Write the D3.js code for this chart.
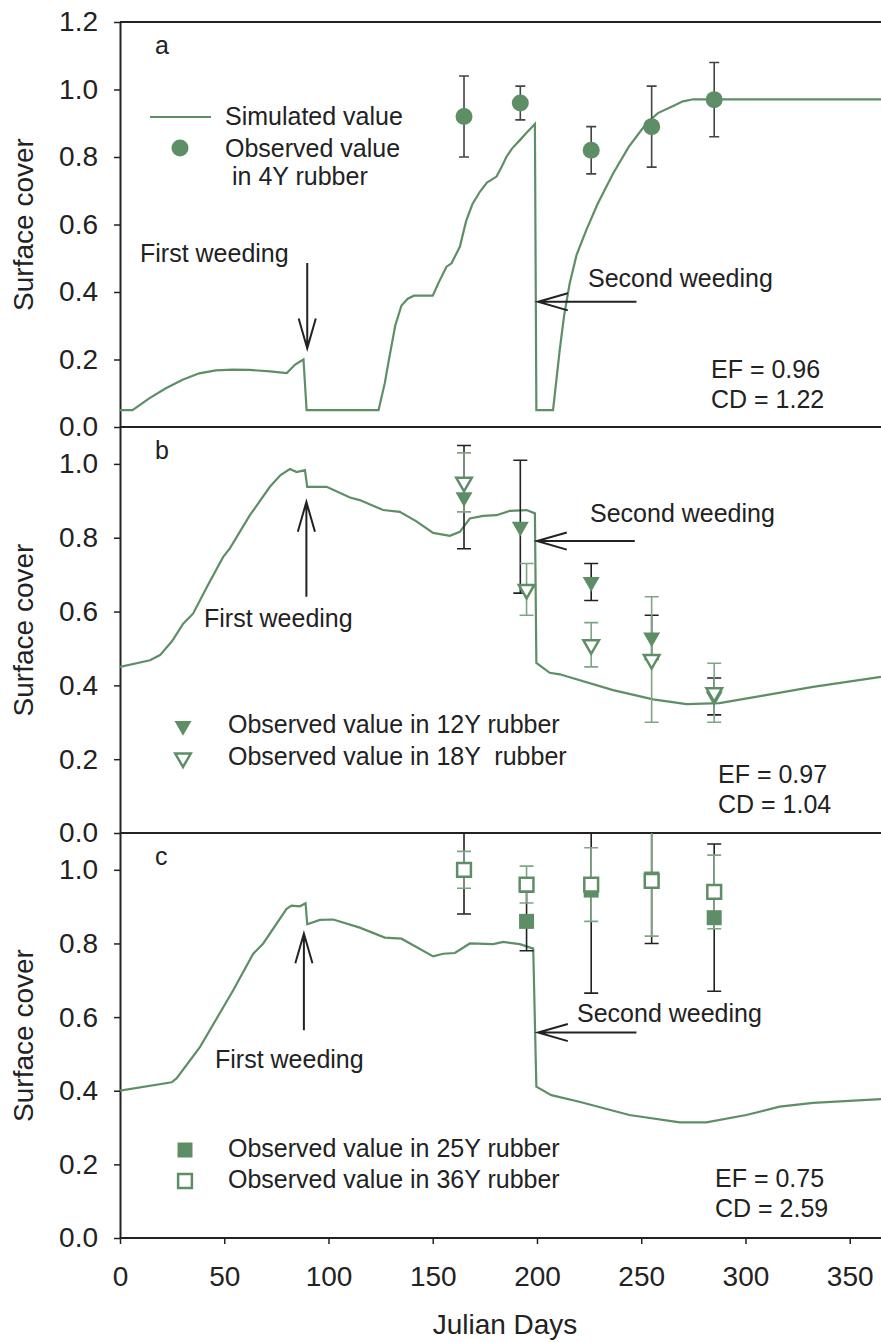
<!DOCTYPE html>
<html>
<head>
<meta charset="utf-8">
<script src="https://cdn.jsdelivr.net/npm/d3@7"></script>
<style>
  body { margin: 0; background: #fff; }
  text { font-family: "Liberation Sans", Arial, sans-serif; fill: #222; }
</style>
</head>
<body>
<svg id="chart"></svg>
<script>
/* simulated surface cover, [julian day, value] */
var simA = [[0,0.05],[6,0.05],[14,0.085],[22,0.115],[30,0.14],[38,0.159],[46,0.168],[54,0.17],[62,0.169],[72,0.165],[80,0.16],[84,0.185],[88,0.2],[89.5,0.05],
  [124,0.05],[127,0.13],[129,0.2],[132,0.3],[135,0.36],[138,0.38],[141,0.389],[150,0.389],[153,0.43],[156.6,0.475],[159,0.485],[163,0.534],[166,0.61],
  [169,0.66],[172.6,0.697],[176,0.724],[180.6,0.742],[183,0.77],[185.3,0.8],[188,0.825],[191.8,0.85],[195,0.872],[199,0.898],[199.7,0.05],[207.7,0.05],
  [209.3,0.139],[210.9,0.228],[213,0.33],[215.7,0.426],[219,0.51],[223.7,0.584],[229,0.66],[236.5,0.751],[244,0.83],[252.5,0.9],[258,0.93],[265.3,0.951],
  [270,0.965],[275,0.971],[365,0.971]];
var simB = [[0,0.45],[14.4,0.468],[19.2,0.482],[25,0.52],[30.3,0.567],[35.1,0.595],[42,0.67],[49.5,0.748],[52.7,0.771],[62.3,0.861],[71.9,0.938],[77,0.97],
  [81.5,0.986],[84.7,0.978],[88.7,0.983],[89.8,0.938],[99.1,0.938],[110.3,0.909],[115,0.902],[126.2,0.875],[134.2,0.87],[142,0.845],[150.2,0.813],
  [158.2,0.805],[163,0.816],[167.8,0.852],[174.2,0.859],[180.6,0.861],[187,0.873],[195,0.875],[199,0.866],[199.7,0.461],[206.1,0.434],[210.9,0.43],
  [236.5,0.387],[255.7,0.362],[271.7,0.349],[287.6,0.352],[308.4,0.372],[332.4,0.396],[365,0.423]];
var simC = [[0,0.4],[24.8,0.423],[27.2,0.434],[38.4,0.519],[54.3,0.673],[63.9,0.772],[68.7,0.8],[79.9,0.894],[82.3,0.903],[86.3,0.901],[89,0.909],
  [89.8,0.852],[95.9,0.864],[102.3,0.865],[115,0.843],[127,0.816],[135,0.813],[150.2,0.765],[155,0.772],[160.6,0.774],[167.8,0.8],[179,0.798],
  [183.8,0.804],[191.8,0.798],[198.2,0.786],[199.7,0.411],[206.9,0.388],[220.3,0.37],[244.3,0.334],[268.5,0.314],[281.2,0.314],[300.4,0.334],
  [316.4,0.357],[332.4,0.367],[365,0.377]];

/* observed values and error bars */
var days4Y = [165, 192, 226, 255, 285];
var obs4Y  = [0.92, 0.96, 0.82, 0.89, 0.97];
var err4Y  = [0.12, 0.05, 0.07, 0.12, 0.11];

var days12Y = [165, 192, 226, 255, 285];
var obs12Y  = [0.91, 0.83, 0.68, 0.53, 0.37];
var err12Y  = [0.14, 0.18, 0.05, 0.06, 0.05];
var days18Y = [165, 195, 226, 255, 285];
var obs18Y  = [0.95, 0.66, 0.51, 0.47, 0.38];
var err18Y  = [0.08, 0.07, 0.06, 0.17, 0.08];

var days25Y = [165, 195, 226, 255, 285];
var obs25Y  = [1.0, 0.86, 0.945, 0.975, 0.87];
var err25Y  = [0.12, 0.08, 0.28, 0.175, 0.2];
var days36Y = [165, 195, 226, 255, 285];
var obs36Y  = [1.0, 0.96, 0.96, 0.97, 0.94];
var err36Y  = [0.05, 0.05, 0.1, 0.15, 0.1];

var xTicks = [0, 50, 100, 150, 200, 250, 300, 350];
var stats = { a: ['EF = 0.96', 'CD = 1.22'], b: ['EF = 0.97', 'CD = 1.04'], c: ['EF = 0.75', 'CD = 2.59'] };

function zip (days, vals, errs) {
  return days.map(function (d, i) { return { day: d, v: vals[i], e: errs[i] }; });
}

var width = 881, height = 1342;
var green = '#5e8e66';
var ink = '#222';

var svg = d3.select('#chart').attr('width', width).attr('height', height);
var x = d3.scaleLinear().domain([0, 365]).range([120, 881]);

var panels = [
  { id: 'a', top: 22, bottom: 427, max: 1.2, sim: simA,
    series: [{ data: zip(days4Y, obs4Y, err4Y), shape: 'circle', fill: true, bar: '#444', cap: 5 }] },
  { id: 'b', top: 427, bottom: 833, max: 1.1, sim: simB,
    series: [{ data: zip(days12Y, obs12Y, err12Y), shape: 'tri', fill: true, bar: ink, cap: 7 },
             { data: zip(days18Y, obs18Y, err18Y), shape: 'tri', fill: false, bar: '#7fa585', cap: 7 }] },
  { id: 'c', top: 833, bottom: 1238, max: 1.1, sim: simC,
    series: [{ data: zip(days25Y, obs25Y, err25Y), shape: 'sq', fill: true, bar: ink, cap: 7 },
             { data: zip(days36Y, obs36Y, err36Y), shape: 'sq', fill: false, bar: '#7fa585', cap: 7 }] }
];

function marker (g, shape, fill) {
  if (shape === 'circle') {
    g.append('circle').attr('r', 8.5).attr('fill', green);
  } else if (shape === 'tri') {
    g.append('path')
      .attr('d', d3.symbol(d3.symbolTriangle, fill ? 125 : 105)())
      .attr('transform', 'rotate(180)')
      .attr('fill', fill ? green : '#fff')
      .attr('stroke', fill ? 'none' : green)
      .attr('stroke-width', 2.5);
  } else {
    g.append('path')
      .attr('d', d3.symbol(d3.symbolSquare, fill ? 225 : 190)())
      .attr('fill', fill ? green : '#fff')
      .attr('stroke', fill ? 'none' : green)
      .attr('stroke-width', 2.5);
  }
}

function arrow (g, x1, y1, x2, y2) {
  var ang = Math.atan2(y2 - y1, x2 - x1), len = 31, half = 0.28;
  var p = d3.path();
  p.moveTo(x1, y1); p.lineTo(x2, y2);
  p.moveTo(x2 - len * Math.cos(ang - half), y2 - len * Math.sin(ang - half));
  p.lineTo(x2, y2);
  p.lineTo(x2 - len * Math.cos(ang + half), y2 - len * Math.sin(ang + half));
  g.append('path').attr('d', p.toString()).attr('fill', 'none').attr('stroke', ink).attr('stroke-width', 2);
}

function label (g, tx, ty, str, size) {
  g.append('text').attr('x', tx).attr('y', ty).attr('font-size', size || 25).attr('xml:space', 'preserve').text(str);
}

panels.forEach(function (p) {
  var y = d3.scaleLinear().domain([0, p.max]).range([p.bottom, p.top]);
  var g = svg.append('g');

  g.append('clipPath').attr('id', 'clip-' + p.id)
    .append('rect').attr('x', x(0)).attr('y', p.top).attr('width', x(365) - x(0)).attr('height', p.bottom - p.top);

  // frame lines
  [p.top, p.bottom].forEach(function (yy) {
    g.append('line').attr('x1', x(0)).attr('x2', width).attr('y1', yy).attr('y2', yy)
      .attr('stroke', ink).attr('stroke-width', 2);
  });

  var yAxis = d3.axisLeft(y)
    .tickValues(d3.range(0, p.max + 0.01, 0.2))
    .tickFormat(d3.format('.1f'))
    .tickSize(6).tickSizeOuter(0).tickPadding(16);
  var ay = g.append('g').attr('transform', 'translate(' + x(0) + ',0)').call(yAxis);
  ay.select('.domain').attr('stroke', ink).attr('stroke-width', 2);
  ay.selectAll('.tick line').attr('stroke', ink).attr('stroke-width', 1.5);
  ay.selectAll('.tick text').attr('font-size', 28).attr('font-family', '"Liberation Sans", Arial, sans-serif').attr('fill', ink);

  g.append('text')
    .attr('transform', 'translate(33,' + ((p.top + p.bottom) / 2) + ') rotate(-90)')
    .attr('text-anchor', 'middle').attr('font-size', 28).text('Surface cover');

  var plot = g.append('g').attr('clip-path', 'url(#clip-' + p.id + ')');

  plot.append('path').datum(p.sim)
    .attr('d', d3.line().x(function (d) { return x(d[0]); }).y(function (d) { return y(d[1]); }))
    .attr('fill', 'none').attr('stroke', green).attr('stroke-width', 2.2);

  // error bars
  p.series.forEach(function (s) {
    s.data.forEach(function (d) {
      var cx = x(d.day), hi = y(d.v + d.e), lo = y(d.v - d.e);
      var pth = d3.path();
      pth.moveTo(cx, hi); pth.lineTo(cx, lo);
      pth.moveTo(cx - s.cap, hi); pth.lineTo(cx + s.cap, hi);
      pth.moveTo(cx - s.cap, lo); pth.lineTo(cx + s.cap, lo);
      plot.append('path').attr('d', pth.toString()).attr('fill', 'none').attr('stroke', s.bar).attr('stroke-width', 1.6);
    });
  });
  // markers
  p.series.forEach(function (s) {
    s.data.forEach(function (d) {
      marker(plot.append('g').attr('transform', 'translate(' + x(d.day) + ',' + y(d.v) + ')'), s.shape, s.fill);
    });
  });

  label(g, 155, p.top + 32, p.id, 25);
  p.y = y; p.g = g;
});

var pa = panels[0], pb = panels[1], pc = panels[2];

// panel a annotations
pa.g.append('line').attr('x1', 150).attr('x2', 211).attr('y1', 117).attr('y2', 117).attr('stroke', green).attr('stroke-width', 2.2);
label(pa.g, 225, 125, 'Simulated value');
marker(pa.g.append('g').attr('transform', 'translate(180,148)'), 'circle', true);
label(pa.g, 225, 157, 'Observed value');
label(pa.g, 232, 185, 'in 4Y rubber');
label(pa.g, 140, 262, 'First weeding');
arrow(pa.g, x(89.8), pa.y(0.486), x(89.8), pa.y(0.233));
label(pa.g, 588, 287, 'Second weeding');
arrow(pa.g, x(247.7), pa.y(0.371), x(200.5), pa.y(0.371));
label(pa.g, 711, 378, stats.a[0]);
label(pa.g, 711, 408, stats.a[1]);

// panel b annotations
label(pb.g, 204, 627, 'First weeding');
arrow(pb.g, x(89.4), pb.y(0.64), x(89.4), pb.y(0.897));
label(pb.g, 590, 522, 'Second weeding');
arrow(pb.g, x(246.9), pb.y(0.791), x(200), pb.y(0.791));
marker(pb.g.append('g').attr('transform', 'translate(183,726)'), 'tri', true);
marker(pb.g.append('g').attr('transform', 'translate(183,758)'), 'tri', false);
label(pb.g, 228, 733, 'Observed value in 12Y rubber');
label(pb.g, 228, 765, 'Observed value in 18Y  rubber');
label(pb.g, 718, 783, stats.b[0]);
label(pb.g, 718, 813, stats.b[1]);

// panel c annotations
label(pc.g, 215, 1068, 'First weeding');
arrow(pc.g, x(88.2), pc.y(0.564), x(88.2), pc.y(0.827));
label(pc.g, 577, 1022, 'Second weeding');
arrow(pc.g, x(247.7), pc.y(0.558), x(200.5), pc.y(0.558));
marker(pc.g.append('g').attr('transform', 'translate(185,1150)'), 'sq', true);
marker(pc.g.append('g').attr('transform', 'translate(185,1181)'), 'sq', false);
label(pc.g, 228, 1157, 'Observed value in 25Y rubber');
label(pc.g, 228, 1188, 'Observed value in 36Y rubber');
label(pc.g, 715, 1187, stats.c[0]);
label(pc.g, 715, 1217, stats.c[1]);

// bottom x axis
var ax = svg.append('g').attr('transform', 'translate(0,' + pc.bottom + ')')
  .call(d3.axisBottom(x).tickValues(xTicks).tickSize(6).tickSizeOuter(0).tickPadding(22));
ax.select('.domain').remove();
ax.selectAll('.tick line').attr('stroke', ink).attr('stroke-width', 1.5);
ax.selectAll('.tick text').attr('font-size', 28).attr('font-family', '"Liberation Sans", Arial, sans-serif').attr('fill', ink);

svg.append('text').attr('x', 505).attr('y', 1334).attr('text-anchor', 'middle').attr('font-size', 28).text('Julian Days');
</script>
</body>
</html>
